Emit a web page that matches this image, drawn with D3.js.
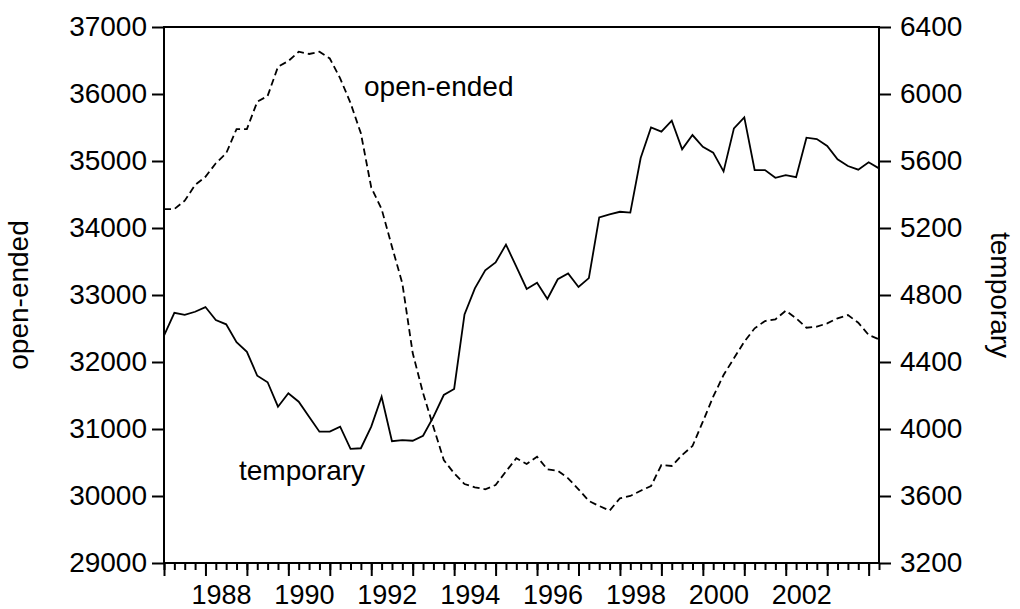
<!DOCTYPE html>
<html>
<head>
<meta charset="utf-8">
<script src="https://cdn.jsdelivr.net/npm/d3@7"></script>
<style>
  body { margin: 0; background: #fff; }
  text { font-family: Arial, "Liberation Sans", sans-serif; fill: #000; }
</style>
</head>
<body>
<div class="chart"></div>
<script>
// quarterly data 1987Q1 .. 2004Q2
var startYear = 1987;

var openEnded = [
  34283, 34283, 34407, 34642, 34765, 34966, 35115, 35477, 35477, 35885,
  35970, 36407, 36492, 36631, 36597, 36631, 36530, 36234, 35866, 35413,
  34604, 34283, 33721, 33174, 32134, 31537, 31030, 30537, 30339, 30179,
  30130, 30100, 30164, 30366, 30563, 30478, 30587, 30398, 30378, 30264,
  30100, 29925, 29851, 29781, 29966, 30000, 30079, 30149, 30463, 30448,
  30612, 30746, 31109, 31482, 31806, 32055, 32303, 32503, 32612, 32637,
  32766, 32652, 32512, 32527, 32577, 32652, 32701, 32586, 32403, 32339
];

var temporary = [
  4557, 4694, 4681, 4700, 4728, 4651, 4625, 4518, 4461, 4318,
  4279, 4133, 4213, 4163, 4073, 3984, 3984, 4014, 3881, 3885,
  4014, 4193, 3927, 3934, 3930, 3960, 4072, 4203, 4239, 4684,
  4840, 4947, 4994, 5101, 4969, 4836, 4873, 4776, 4894, 4929,
  4848, 4901, 5263, 5282, 5297, 5292, 5618, 5800, 5775, 5841,
  5670, 5755, 5685, 5650, 5538, 5795, 5861, 5546, 5546, 5500,
  5515, 5503, 5739, 5731, 5690, 5610, 5570, 5548, 5592, 5556
];

var leftTicks = [29000, 30000, 31000, 32000, 33000, 34000, 35000, 36000, 37000];
var rightTicks = [3200, 3600, 4000, 4400, 4800, 5200, 5600, 6000, 6400];
var yearLabels = [1988, 1990, 1992, 1994, 1996, 1998, 2000, 2002];

var svgWidth = 1020, svgHeight = 609;
var margin = { top: 27, right: 141, bottom: 46, left: 164 };
var width = svgWidth - margin.left - margin.right;
var height = svgHeight - margin.top - margin.bottom;

var svg = d3.select(".chart").append("svg")
  .attr("width", svgWidth)
  .attr("height", svgHeight);

var chartGroup = svg.append("g")
  .attr("transform", `translate(${margin.left}, ${margin.top})`);

var n = openEnded.length;
var t = d3.range(n).map(i => startYear + i / 4);

// scales
var xScale = d3.scaleLinear()
  .domain([startYear, t[n - 1]])
  .range([0, width]);

var yLeft = d3.scaleLinear().domain([29000, 37000]).range([height, 0]);
var yRight = d3.scaleLinear().domain([3200, 6400]).range([height, 0]);

// x axis: quarterly minor ticks, yearly major ticks, labels centred in the year
var years = d3.range(startYear, 2005).filter(y => y <= t[n - 1]);

chartGroup.append("g")
  .attr("class", "x minor")
  .attr("transform", `translate(0, ${height})`)
  .call(d3.axisBottom(xScale).tickValues(t).tickSize(7).tickFormat(""));

chartGroup.append("g")
  .attr("class", "x major")
  .attr("transform", `translate(0, ${height})`)
  .call(d3.axisBottom(xScale).tickValues(years).tickSize(13).tickFormat(""));

chartGroup.append("g")
  .attr("class", "x labels")
  .attr("transform", `translate(0, ${height})`)
  .call(d3.axisBottom(xScale)
    .tickValues(yearLabels.map(y => y + 0.375))
    .tickSize(0).tickPadding(22)
    .tickFormat(d => Math.floor(d)));

chartGroup.append("g")
  .attr("class", "y left")
  .call(d3.axisLeft(yLeft).tickValues(leftTicks).tickSize(12).tickPadding(5).tickFormat(d3.format("d")));

chartGroup.append("g")
  .attr("class", "y right")
  .attr("transform", `translate(${width}, 0)`)
  .call(d3.axisRight(yRight).tickValues(rightTicks).tickSize(12).tickPadding(9).tickFormat(d3.format("d")));

chartGroup.selectAll(".domain").remove();
chartGroup.selectAll(".tick line").attr("stroke", "#000").attr("stroke-width", 2);
chartGroup.selectAll(".tick text").style("font-size", "27px");
chartGroup.selectAll(".y .tick text").style("font-size", "28px");

// frame
chartGroup.append("rect")
  .attr("width", width)
  .attr("height", height)
  .attr("fill", "none")
  .attr("stroke", "#000")
  .attr("stroke-width", 2);

// lines
var openLine = d3.line()
  .x((d, i) => xScale(t[i]))
  .y(d => yLeft(d));

var tempLine = d3.line()
  .x((d, i) => xScale(t[i]))
  .y(d => yRight(d));

chartGroup.append("path")
  .datum(openEnded)
  .attr("d", openLine)
  .attr("fill", "none")
  .attr("stroke", "#000")
  .attr("stroke-width", 1.8)
  .attr("stroke-dasharray", "7,4");

chartGroup.append("path")
  .datum(temporary)
  .attr("d", tempLine)
  .attr("fill", "none")
  .attr("stroke", "#000")
  .attr("stroke-width", 1.8);

// in-plot labels
svg.append("text")
  .attr("x", 364).attr("y", 96)
  .style("font-size", "28px")
  .text("open-ended");

svg.append("text")
  .attr("x", 239).attr("y", 480)
  .style("font-size", "28px")
  .text("temporary");

// axis titles
svg.append("text")
  .attr("transform", `translate(28, ${margin.top + height / 2}) rotate(-90)`)
  .attr("text-anchor", "middle")
  .style("font-size", "28px")
  .text("open-ended");

svg.append("text")
  .attr("transform", `translate(991, ${margin.top + height / 2}) rotate(90)`)
  .attr("text-anchor", "middle")
  .style("font-size", "28px")
  .text("temporary");
</script>
</body>
</html>
